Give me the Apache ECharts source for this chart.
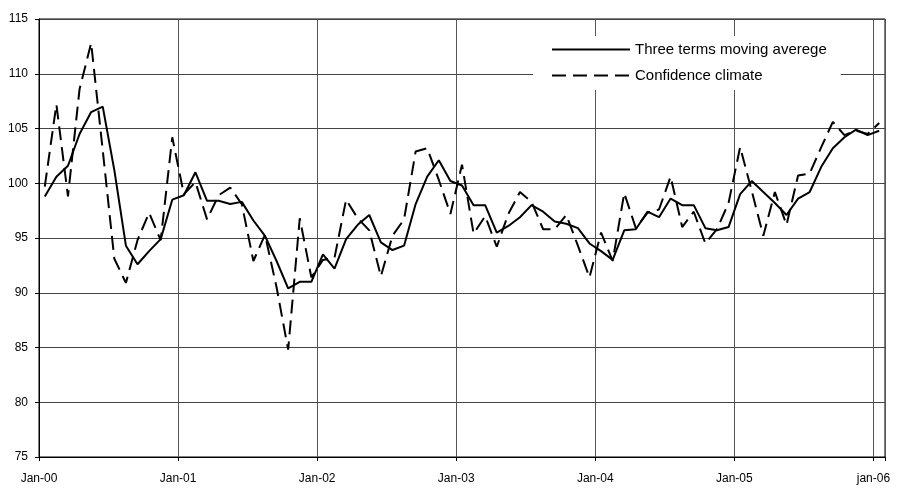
<!DOCTYPE html>
<html>
<head>
<meta charset="utf-8">
<script src="https://cdn.jsdelivr.net/npm/echarts@6/dist/echarts.min.js"></script>
<style>
html,body{margin:0;padding:0;background:#fff;}
#chart{width:905px;height:489px;}
</style>
</head>
<body>
<div id="chart"></div>
<script>
// Tick labels shown on the time axis (one per January)
const tickLabels = ['Jan-00','Jan-01','Jan-02','Jan-03','Jan-04','Jan-05','jan-06'];
const monthNames = ['Jan','Feb','Mar','Apr','May','Jun','Jul','Aug','Sep','Oct','Nov','Dec'];
const yearCodes = ['00','01','02','03','04','05','06'];

// Monthly categories Jan-00 .. Jan-06
const categories = [];
yearCodes.forEach(function (y, yi) {
  monthNames.forEach(function (m, mi) {
    if (yi < 6 || mi === 0) categories.push(m + '-' + y);
  });
});

const seriesNames = ['Three terms moving averege', 'Confidence climate'];

// Three terms moving average (solid)
const movingAverage = [
  98.8, 100.6, 101.6, 104.5, 106.5, 107.0, 101.2, 94.3, 92.6, 93.8, 94.9, 98.5,
  98.9, 101.0, 98.4, 98.4, 98.1, 98.3, 96.6, 95.2, 92.9, 90.4, 91.0, 91.0,
  93.5, 92.2, 94.9, 96.2, 97.1, 94.6, 93.9, 94.3, 98.1, 100.6, 102.1, 100.2,
  99.8, 98.0, 98.0, 95.5, 96.1, 96.9, 98.0, 97.4, 96.5, 96.3, 95.9, 94.5,
  93.8, 93.0, 95.7, 95.8, 97.4, 96.9, 98.6, 98.0, 98.0, 95.9, 95.7, 96.0,
  99.0, 100.2, 99.2, 98.2, 97.1, 98.6, 99.2, 101.5, 103.2, 104.2, 104.9, 104.4,
  104.8
];

// Confidence climate (dashed)
const confidenceClimate = [
  99.7, 107.2, 98.8, 108.6, 112.8, 103.0, 93.1, 90.9, 94.8, 97.3, 94.8, 104.2,
  99.0, 100.1, 96.7, 98.9, 99.6, 98.1, 92.9, 95.3, 90.5, 84.8, 96.8, 91.4,
  93.0, 93.2, 98.5, 96.8, 95.7, 91.5, 95.2, 96.7, 102.9, 103.2, 100.3, 97.2,
  101.7, 95.4, 97.0, 94.2, 97.2, 99.2, 98.3, 95.8, 95.8, 97.1, 94.3, 91.4,
  95.5, 92.9, 99.1, 95.9, 97.3, 97.6, 100.6, 96.0, 97.4, 94.5, 95.8, 98.2,
  103.3, 99.3, 95.2, 99.2, 96.2, 100.7, 100.9, 103.3, 105.6, 104.4, 104.8, 104.5,
  105.5
];

const chart = echarts.init(document.getElementById('chart'), null, {renderer: 'canvas'});
const FONT = 'Liberation Sans, Arial, sans-serif';

chart.setOption({
  animation: false,
  backgroundColor: '#fff',
  grid: {
    left: 39, right: 20, top: 19, bottom: 32,
    show: true, borderColor: '#000', borderWidth: 1, backgroundColor: 'transparent'
  },
  legend: {
    orient: 'vertical',
    left: 533, top: 36,
    padding: [6, 14, 7, 18],
    backgroundColor: '#fff',
    itemWidth: 78, itemHeight: 14, itemGap: 11,
    itemStyle: {opacity: 0},
    textStyle: {fontFamily: FONT, fontSize: 15, color: '#000'},
    data: seriesNames
  },
  xAxis: [
    {
      type: 'category',
      data: categories,
      boundaryGap: true,
      show: false
    },
    {
      type: 'value',
      position: 'bottom',
      min: 0, max: categories.length, interval: 12,
      axisLine: {show: true, lineStyle: {color: '#000', width: 1}},
      axisTick: {show: true, length: 4, inside: false, lineStyle: {color: '#000'}},
      axisLabel: {
        show: true, margin: 16, fontFamily: FONT, fontSize: 12, color: '#000',
        showMinLabel: true, showMaxLabel: true,
        formatter: function (v) {
          if (v % 12 !== 0) return '';
          const k = v / 12;
          return tickLabels[k] !== undefined ? tickLabels[k] : '';
        }
      },
      splitLine: {show: true, lineStyle: {color: '#555', width: 1}}
    }
  ],
  yAxis: {
    type: 'value',
    min: 75, max: 115, interval: 5,
    axisLine: {show: true, lineStyle: {color: '#000', width: 1}},
    axisTick: {show: true, length: 4, lineStyle: {color: '#000'}},
    axisLabel: {margin: 11, fontFamily: FONT, fontSize: 12, color: '#000'},
    splitLine: {show: true, lineStyle: {color: '#444', width: 1}}
  },
  series: [
    {
      name: seriesNames[0],
      type: 'line',
      xAxisIndex: 0,
      data: movingAverage,
      symbol: 'none',
      smooth: false,
      lineStyle: {color: '#000', width: 2, type: 'solid'},
      itemStyle: {color: '#000'},
      z: 3
    },
    {
      name: seriesNames[1],
      type: 'line',
      xAxisIndex: 0,
      data: confidenceClimate,
      symbol: 'none',
      smooth: false,
      lineStyle: {color: '#000', width: 2, type: [14, 7]},
      itemStyle: {color: '#000'},
      z: 4
    }
  ]
});
</script>
</body>
</html>
